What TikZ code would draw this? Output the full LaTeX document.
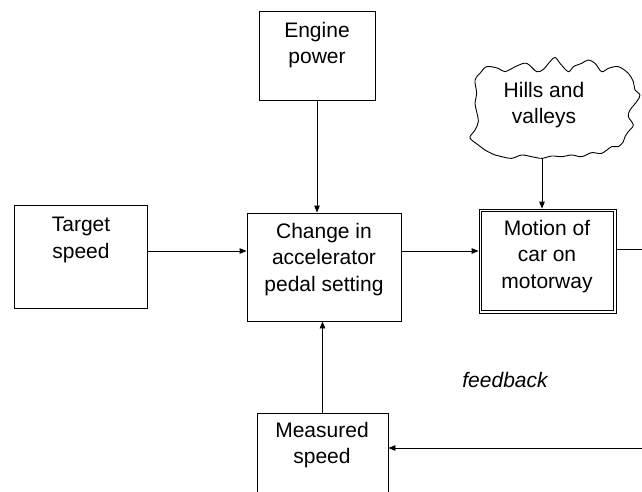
\documentclass[tikz,border=0pt]{standalone}
\usepackage{fontspec}
\setmainfont{Liberation Sans}
\usetikzlibrary{arrows.meta}
\tikzset{
  blk/.style={draw, line width=0.9pt, minimum width=#1, inner sep=0pt},
  blktext/.style={anchor=north, align=center, inner sep=0pt, font=\fontsize{21}{26.5}\selectfont},
  arr/.style={line width=0.9pt, -{Triangle[length=7pt,width=5.5pt]}},
  wire/.style={line width=0.9pt}
}
\begin{document}
\begin{tikzpicture}[x=1pt,y=-1pt]
\useasboundingbox (0,0) rectangle (642,491);
\clip (0,0) rectangle (642,491);

% blocks
\node[blk=133pt, minimum height=103pt] (target) at (80.5,256.5) {};
\node[blk=116pt, minimum height=89pt] (engine) at (317,55.5) {};
\node[blk=154pt, minimum height=108pt] (change) at (324,267) {};
\node[blk=137pt, minimum height=104pt, line width=0.8pt] (motion) at (547.5,261) {};
\draw[line width=0.8pt] ([shift={(3pt,-3pt)}]motion.north west) rectangle ([shift={(-3pt,3pt)}]motion.south east);
\node[blk=131pt, minimum height=114pt] (measured) at (322.5,470) {};

% cloud outline
\begin{scope}[shift={(455,40)}, scale=1/3]
\draw[line width=0.9pt, line join=round] plot[smooth cycle, tension=0.55] coordinates {
 (75,100) (95,80) (130,85) (150,95) (185,78) (215,70) (245,95) (265,88) (285,65)
 (300,52) (315,70) (340,95) (355,80) (380,70) (400,60) (420,70) (440,95) (460,85)
 (490,80) (520,100) (535,125) (540,150) (555,165) (545,185) (525,210) (520,230)
 (535,255) (520,275) (510,290) (505,305) (490,320) (470,320) (440,340) (410,338)
 (380,350) (350,345) (320,350) (290,348) (260,355) (230,350) (200,345) (170,355)
 (140,350) (120,345) (90,330) (70,315) (50,300) (45,290) (60,270) (70,245)
 (65,215) (60,190) (65,160) (60,120)};
\end{scope}
\coordinate (cloudbot) at (542,158);

% block texts
\node[blktext] (target-t) at (81,217) {Target\\speed};
\node[blktext] (engine-t) at (317,22) {Engine\\power};
\node[blktext] (change-t) at (324,223) {Change in\\accelerator\\pedal setting};
\node[blktext] (motion-t) at (547,220) {Motion of\\car on\\motorway};
\node[blktext] (measured-t) at (322,422) {Measured\\speed};
\node[blktext] (hills-t) at (544,82) {Hills and\\valleys};
\node[font=\fontsize{21}{24}\selectfont\itshape, inner sep=0pt] (fb) at (505,380) {feedback};

% connectors
\coordinate (row) at (0,251);
\coordinate (outR) at (650,249);
\coordinate (fbR) at (650,448);
\draw[arr] (target.east |- row) -- (change.west |- row);
\draw[arr] (change.east |- row) -- (motion.west |- row);
\draw[arr] (engine.south) -- (engine.south |- change.north);
\draw[arr] (measured.north) -- (measured.north |- change.south);
\draw[arr] (cloudbot) -- (cloudbot |- motion.north);
\draw[wire] (motion.east |- outR) -- (outR);
\draw[arr] (fbR) -- (measured.east |- fbR);
\end{tikzpicture}
\end{document}
